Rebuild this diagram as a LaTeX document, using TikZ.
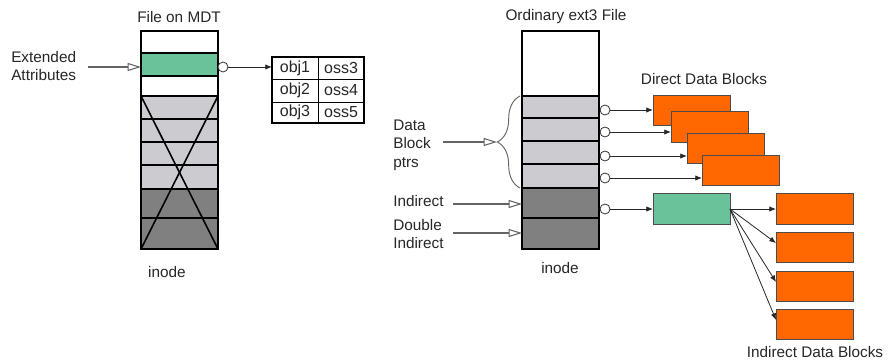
\documentclass[tikz,border=0pt]{standalone}
\usepackage{fontspec}
\setmainfont{Liberation Sans}
\usetikzlibrary{arrows.meta,decorations.pathreplacing}
\definecolor{mygreen}{RGB}{106,194,155}
\definecolor{myorange}{RGB}{255,104,0}
\definecolor{lgray}{RGB}{204,204,208}
\definecolor{dgray}{RGB}{128,128,128}
\definecolor{linegray}{RGB}{100,100,100}
\newcommand\blk[6]{\node[#1, anchor=north west, minimum width={(#4-#2)*0.75pt}, minimum height={(#5-#3)*0.75pt}] (#6) at (#2,#3) {};}
\tikzset{
  cell/.style={draw=black, line width=1.2pt, inner sep=0pt, outer sep=0pt},
  whitecell/.style={cell, fill=white},
  greencell/.style={cell, fill=mygreen},
  lightcell/.style={cell, fill=lgray},
  darkcell/.style={cell, fill=dgray},
  tcell/.style={draw=black, line width=0.6pt, inner sep=0pt, outer sep=0pt},
  orangeblk/.style={draw=black!70, line width=0.6pt, fill=myorange, inner sep=0pt, outer sep=0pt},
  greenblk/.style={draw=black!70, line width=0.6pt, fill=mygreen, inner sep=0pt, outer sep=0pt},
  circ/.style={circle, draw=black!80, fill=white, line width=0.6pt, minimum size=7.5pt, inner sep=0pt},
  openarrow/.style={draw=linegray, line width=0.8pt, -{Triangle[open, length=10pt, width=6pt]}},
  ptrarrow/.style={draw=black!85, line width=0.6pt, -{Latex[length=5pt, width=4pt]}},
  lbl/.style={font=\fontsize{11.5}{14}\selectfont, text=black!85, inner sep=0pt},
  tlbl/.style={font=\fontsize{12}{14}\selectfont, text=black!85, inner sep=0pt},
}
\begin{document}
\begin{tikzpicture}[x=0.75pt,y=-0.75pt]
\useasboundingbox (0,0) rectangle (888,360);
% ---------- left stack
\blk{whitecell}{141}{31}{218}{53}{l1}
\blk{greencell}{141}{53}{218}{76}{l2}
\blk{whitecell}{141}{76}{218}{96}{l3}
\blk{lightcell}{141}{96}{218}{119}{l4}
\blk{lightcell}{141}{119}{218}{142}{l5}
\blk{lightcell}{141}{142}{218}{165}{l6}
\blk{lightcell}{141}{165}{218}{189}{l7}
\blk{darkcell}{141}{189}{218}{218}{l8}
\blk{darkcell}{141}{218}{218}{249}{l9}
\draw[line width=1.2pt] (l4.north west) -- (l9.south east);
\draw[line width=1.2pt] (l4.north east) -- (l9.south west);
\draw[line width=1.5pt] (l1.north west) rectangle (l9.south east);
\node[lbl] (tmdt) at (179,17) {File on MDT};
\node[lbl] (ino1) at (167,272) {inode};
\node[lbl, anchor=west, align=left] (tea) at (11,66) {Extended\\Attributes};
\coordinate (ea) at (88,67);
\draw[openarrow] (ea) -- (l2.west |- ea);
\node[circ] (c0) at (223,67) {};
% table
\blk{tcell}{272}{57}{318}{79}{t11}
\blk{tcell}{318}{57}{364}{79}{t12}
\blk{tcell}{272}{79}{318}{102}{t21}
\blk{tcell}{318}{79}{364}{102}{t22}
\blk{tcell}{272}{102}{318}{123}{t31}
\blk{tcell}{318}{102}{364}{123}{t32}
\node[tlbl] at (t11) {obj1};
\node[tlbl] at (t12) {oss3};
\node[tlbl] at (t21) {obj2};
\node[tlbl] at (t22) {oss4};
\node[tlbl] at (t31) {obj3};
\node[tlbl] at (t32) {oss5};
\draw[line width=1.5pt] (t11.north west) rectangle (t32.south east);
\draw[ptrarrow] (c0.east) -- (t11.west |- c0);
% ---------- right stack
\blk{whitecell}{522}{31}{599}{96}{r1}
\blk{lightcell}{522}{96}{599}{118}{r2}
\blk{lightcell}{522}{118}{599}{141}{r3}
\blk{lightcell}{522}{141}{599}{164}{r4}
\blk{lightcell}{522}{164}{599}{188}{r5}
\blk{darkcell}{522}{188}{599}{218}{r6}
\blk{darkcell}{522}{218}{599}{249}{r7}
\draw[line width=1.5pt] (r1.north west) rectangle (r7.south east);
\node[lbl] (toe) at (566,17) {Ordinary ext3 File};
\node[lbl] (ino2) at (560,268) {inode};
% brace
\draw[draw=linegray, line width=0.7pt, decorate, decoration={brace, amplitude=17pt}] (520,188) -- (520,96);
\coordinate (btip) at (497,142);
\node[lbl, anchor=west, align=left] (tdb) at (393,145) {Data\\Block\\ptrs};
\coordinate (dbs) at (443,142);
\draw[openarrow] (dbs) -- (btip);
\node[lbl, anchor=west] (tind) at (393,201) {Indirect};
\coordinate (ins) at (453,204);
\draw[openarrow] (ins) -- (r6.west |- ins);
\node[lbl, anchor=west, align=left] (tdi) at (393,234) {Double\\Indirect};
\coordinate (dis) at (453,233);
\draw[openarrow] (dis) -- (r7.west |- dis);
% circles
\node[circ] (c1) at (605,110) {};
\node[circ] (c2) at (605,132) {};
\node[circ] (c3) at (605,156) {};
\node[circ] (c4) at (605,178) {};
\node[circ] (c5) at (605,209) {};
% direct blocks
\blk{orangeblk}{653}{95}{730}{125}{d1}
\blk{orangeblk}{671}{111}{748}{142}{d2}
\blk{orangeblk}{687}{133}{764}{163}{d3}
\blk{orangeblk}{702}{155}{779}{185}{d4}
\draw[ptrarrow] (c1.east) -- (c1 -| d1.west);
\draw[ptrarrow] (c2.east) -- (c2 -| d2.west);
\draw[ptrarrow] (c3.east) -- (c3 -| d3.west);
\draw[ptrarrow] (c4.east) -- (c4 -| d4.west);
\node[lbl] (tdd) at (704,79) {Direct Data Blocks};
% indirect
\blk{greenblk}{653}{193}{730}{224}{g}
\draw[ptrarrow] (c5.east) -- (c5 -| g.west);
\blk{orangeblk}{776}{193}{853}{224}{i1}
\blk{orangeblk}{776}{232}{853}{262}{i2}
\blk{orangeblk}{776}{271}{853}{301}{i3}
\blk{orangeblk}{776}{309}{853}{339}{i4}
\coordinate (gs) at (730,209);
\draw[ptrarrow] (gs) -- (gs -| i1.west);
\draw[ptrarrow] (gs) -- ([yshift=3pt]i2.west);
\draw[ptrarrow] (gs) -- ([yshift=3pt]i3.west);
\draw[ptrarrow] (gs) -- ([yshift=3pt]i4.west);
\node[lbl] (tid) at (815,352) {Indirect Data Blocks};
\end{tikzpicture}
\end{document}
